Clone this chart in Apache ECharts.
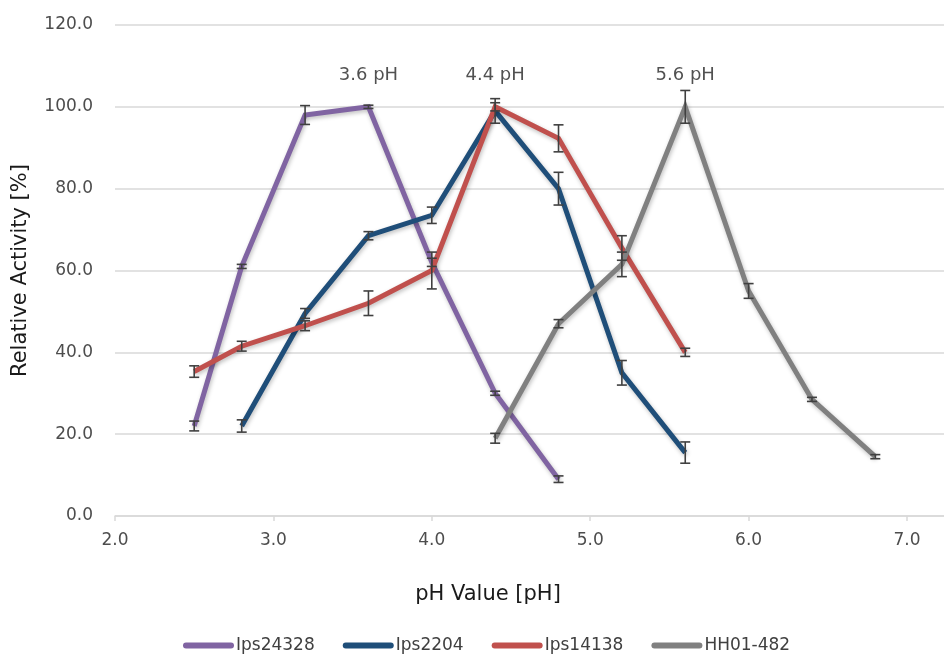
<!DOCTYPE html>
<html>
<head>
<meta charset="utf-8">
<script src="https://cdn.jsdelivr.net/npm/echarts@6/dist/echarts.min.js"></script>
<style>
  html, body { margin: 0; padding: 0; background: #ffffff; }
  #chart { width: 944px; height: 654px; }
</style>
</head>
<body>
<div id="chart"></div>
<script>
// pH profiles of relative enzyme activity (mean ± error)
const seriesNames = ['Ips24328', 'Ips2204', 'Ips14138', 'HH01-482'];
const seriesColors = ['#8064A2', '#1F4E79', '#C0504D', '#808080'];

const phIps24328 = [2.5, 2.8, 3.2, 3.6, 4.0, 4.4, 4.8];
const actIps24328 = [22, 61, 98, 100, 62, 30, 9];
const errIps24328 = [1.2, 0.5, 2.3, 0.4, 1.0, 0.5, 0.8];

const phIps2204 = [2.8, 3.2, 3.6, 4.0, 4.4, 4.8, 5.2, 5.6];
const actIps2204 = [22, 49.5, 68.5, 73.5, 99, 80, 35, 15.5];
const errIps2204 = [1.5, 1.2, 1.0, 2.0, 3.0, 4.0, 3.0, 2.6];

const phIps14138 = [2.5, 2.8, 3.2, 3.6, 4.0, 4.4, 4.8, 5.2, 5.6];
const actIps14138 = [35.3, 41.5, 46.5, 52, 60, 100, 92.3, 65.5, 40];
const errIps14138 = [1.4, 1.2, 1.2, 3.0, 4.5, 1.0, 3.3, 3.0, 1.0];

const phHH01 = [4.4, 4.8, 5.2, 5.6, 6.0, 6.4, 6.8];
const actHH01 = [19, 47, 61.5, 100, 55, 28.5, 14.5];
const errHH01 = [1.2, 1.0, 3.0, 4.0, 1.8, 0.5, 0.5];

// optimum pH annotations
const peakPH = [3.6, 4.4, 5.6];
const peakActivity = [100, 100, 100];

const xTickValues = [2, 3, 4, 5, 6, 7];

const allPH = [phIps24328, phIps2204, phIps14138, phHH01];
const allAct = [actIps24328, actIps2204, actIps14138, actHH01];
const allErr = [errIps24328, errIps2204, errIps14138, errHH01];

const FONT = 'DejaVu Sans';

function zip2(xs, ys) { return xs.map((x, i) => [x, ys[i]]); }
function zip3(xs, ys, es) { return xs.map((x, i) => [x, ys[i], es[i]]); }

// error bar: vertical whisker with short caps
function renderErrorBar(params, api) {
  const x = api.value(0), y = api.value(1), e = api.value(2);
  const hi = api.coord([x, y + e]);
  const lo = api.coord([x, y - e]);
  const cap = 5;
  const style = { stroke: '#404040', lineWidth: 1.6 };
  return {
    type: 'group',
    children: [
      { type: 'line', shape: { x1: hi[0], y1: hi[1], x2: lo[0], y2: lo[1] }, style },
      { type: 'line', shape: { x1: hi[0] - cap, y1: hi[1], x2: hi[0] + cap, y2: hi[1] }, style },
      { type: 'line', shape: { x1: lo[0] - cap, y1: lo[1], x2: lo[0] + cap, y2: lo[1] }, style }
    ]
  };
}

const lineSeries = seriesNames.map((name, i) => ({
  name,
  type: 'line',
  data: zip2(allPH[i], allAct[i]),
  showSymbol: false,
  symbol: 'none',
  color: seriesColors[i],
  lineStyle: {
    width: 5,
    color: seriesColors[i],
    join: 'miter',
    shadowColor: 'rgba(0,0,0,0.25)',
    shadowBlur: 4,
    shadowOffsetX: 1,
    shadowOffsetY: 2
  },
  z: 2 + i
}));

const errorSeries = seriesNames.map((name, i) => ({
  name: name + ' error',
  type: 'custom',
  renderItem: renderErrorBar,
  data: zip3(allPH[i], allAct[i], allErr[i]),
  encode: { x: 0, y: 1 },
  silent: true,
  z: 10
}));

const peakSeries = {
  name: 'optimum',
  type: 'scatter',
  data: zip2(peakPH, peakActivity),
  symbolSize: 0,
  silent: true,
  z: 12,
  label: {
    show: true,
    position: 'top',
    distance: 23,
    formatter: p => p.value[0].toFixed(1) + ' pH',
    fontFamily: FONT,
    fontSize: 18,
    color: '#262626'
  }
};

const chart = echarts.init(document.getElementById('chart'), null, { renderer: 'canvas' });
chart.setOption({
  animation: false,
  backgroundColor: '#ffffff',
  grid: { left: 115, right: 0, top: 25, bottom: 138, containLabel: false },
  legend: {
    data: seriesNames,
    left: 183,
    top: 637,
    padding: 0,
    itemWidth: 51,
    itemHeight: 6,
    itemGap: 28,
    icon: 'path://M3,0H48A3,3,0,0,1,48,6H3A3,3,0,0,1,3,0Z',
    textStyle: { fontFamily: FONT, fontSize: 17, color: '#404040', padding: [0, 0, 0, -3] }
  },
  xAxis: {
    type: 'value',
    min: 2,
    max: 2 + 829 / 158.4,
    name: 'pH Value [pH]',
    nameLocation: 'middle',
    nameGap: 68,
    nameTextStyle: { fontFamily: FONT, fontSize: 21, color: '#1a1a1a', padding: [0, 83, 0, 0] },
    axisLine: { show: true, lineStyle: { color: '#d9d9d9', width: 1.5 } },
    axisTick: { show: true, length: 5, customValues: xTickValues, lineStyle: { color: '#d9d9d9', width: 1.5 } },
    axisLabel: {
      customValues: xTickValues,
      margin: 16,
      fontFamily: FONT,
      fontSize: 17,
      color: '#4d4d4d',
      formatter: v => v.toFixed(1)
    },
    splitLine: { show: false }
  },
  yAxis: {
    type: 'value',
    min: 0,
    max: 120,
    interval: 20,
    name: 'Relative Activity [%]',
    nameLocation: 'middle',
    nameGap: 84,
    nameTextStyle: { fontFamily: FONT, fontSize: 21, color: '#1a1a1a' },
    axisLine: { show: false },
    axisTick: { show: false },
    axisLabel: {
      margin: 22,
      fontFamily: FONT,
      fontSize: 17,
      color: '#4d4d4d',
      formatter: v => v.toFixed(1)
    },
    splitLine: { show: true, lineStyle: { color: '#d9d9d9', width: 1.5 } }
  },
  series: [...lineSeries, ...errorSeries, peakSeries]
});
</script>
</body>
</html>
